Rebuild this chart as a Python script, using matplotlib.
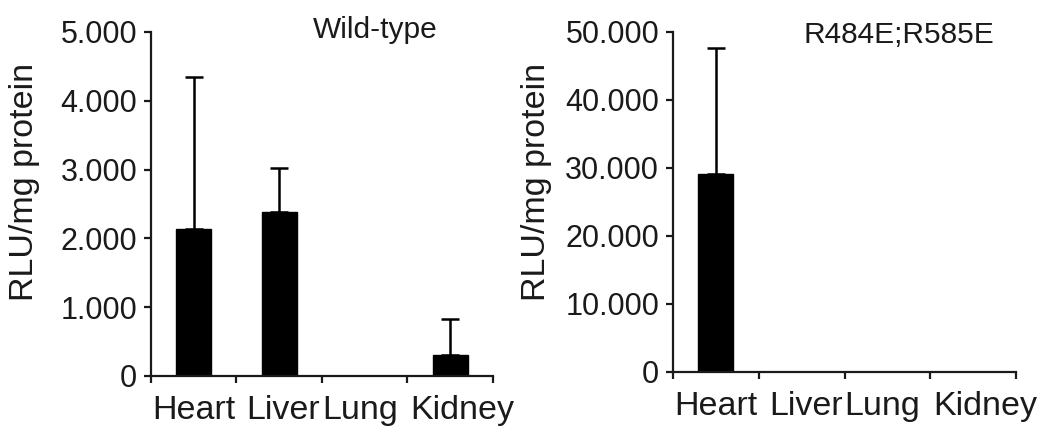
import numpy as np
import matplotlib.pyplot as plt
import matplotlib.transforms as mtrans

plt.rcParams['font.family'] = ['Liberation Sans', 'DejaVu Sans']

organes = ["Heart", "Liver", "Lung", "Kidney"]

# ~ Wild-type
wt_moy = [2130, 2380, 0, 310]
wt_err = [2220, 640, 0, 520]

# ~ R484E;R585E
mut_moy = [29100, 0, 0, 0]
mut_err = [18500, 0, 0, 0]

wt_ticks = [0, 1000, 2000, 3000, 4000, 5000]
wt_labels = ["0", "1.000", "2.000", "3.000", "4.000", "5.000"]
mut_ticks = [0, 10000, 20000, 30000, 40000, 50000]
mut_labels = ["0", "10.000", "20.000", "30.000", "40.000", "50.000"]

decalage = [0, 4, -5, 12] # ~ Petit décalage des étiquettes en pixels, comme sur la figure


def panneau(ax, moy, err, ticks, labels, titre, ymax) :
	x = np.arange(len(organes))
	ax.bar(x, moy, width=0.41, color="black", edgecolor="black", linewidth=1)
	err_haut = np.array(err)
	montre = err_haut > 0 # ~ Pas de barre d'erreur quand rien
	ax.errorbar(x[montre], np.array(moy)[montre], yerr=[np.zeros(montre.sum()), err_haut[montre]],
		fmt="none", ecolor="black", elinewidth=1.8, capsize=6.5, capthick=1.8)
	ax.set_xlim(-0.5, 3.5)
	ax.set_ylim(0, ymax)
	for s in ["top", "right"] :
		ax.spines[s].set_visible(False)
	for s in ["left", "bottom"] :
		ax.spines[s].set_linewidth(1.6)
		ax.spines[s].set_color("#1a1a1a")
	ax.set_yticks(ticks)
	ax.set_yticklabels(labels, fontsize=22, color="#1a1a1a")
	# ~ Graduations aux frontières, étiquettes au milieu
	ax.set_xticks(np.arange(-0.5, 4, 1))
	ax.set_xticklabels([])
	ax.set_xticks(x, minor=True)
	ax.set_xticklabels(organes, minor=True, fontsize=24.5, color="#1a1a1a")
	ax.tick_params(axis="x", which="minor", length=0, pad=14)
	ax.tick_params(axis="both", which="major", length=5, width=1.6, direction="out", colors="#1a1a1a")
	ax.tick_params(axis="y", pad=5)
	for lab, dx in zip(ax.get_xticklabels(minor=True), decalage) :
		lab.set_transform(lab.get_transform() + mtrans.ScaledTranslation(dx/100, 0, ax.figure.dpi_scale_trans))
	ax.set_ylabel("RLU/mg protein", fontsize=24.5, color="#1a1a1a")
	return ax.text(0.66, 0.98, titre, transform=ax.transAxes, ha="center", va="baseline", fontsize=21.5, color="#1a1a1a")


fig = plt.figure(figsize=(10.37, 4.30), dpi=100)
ax1 = fig.add_axes([0.1456, 0.1256, 0.3298, 0.80])
ax2 = fig.add_axes([0.649, 0.1349, 0.3308, 0.7907])

t1 = panneau(ax1, wt_moy, wt_err, wt_ticks, wt_labels, "Wild-type", 5000)
t2 = panneau(ax2, mut_moy, mut_err, mut_ticks, mut_labels, "R484E;R585E", 50000)

t1.set_position((0.655, 0.983))
t2.set_position((0.657, 0.968))

ax1.yaxis.set_label_coords(-0.325, 0.564)
ax2.yaxis.set_label_coords(-0.352, 0.559)

fig.savefig("out.png", dpi=100)
